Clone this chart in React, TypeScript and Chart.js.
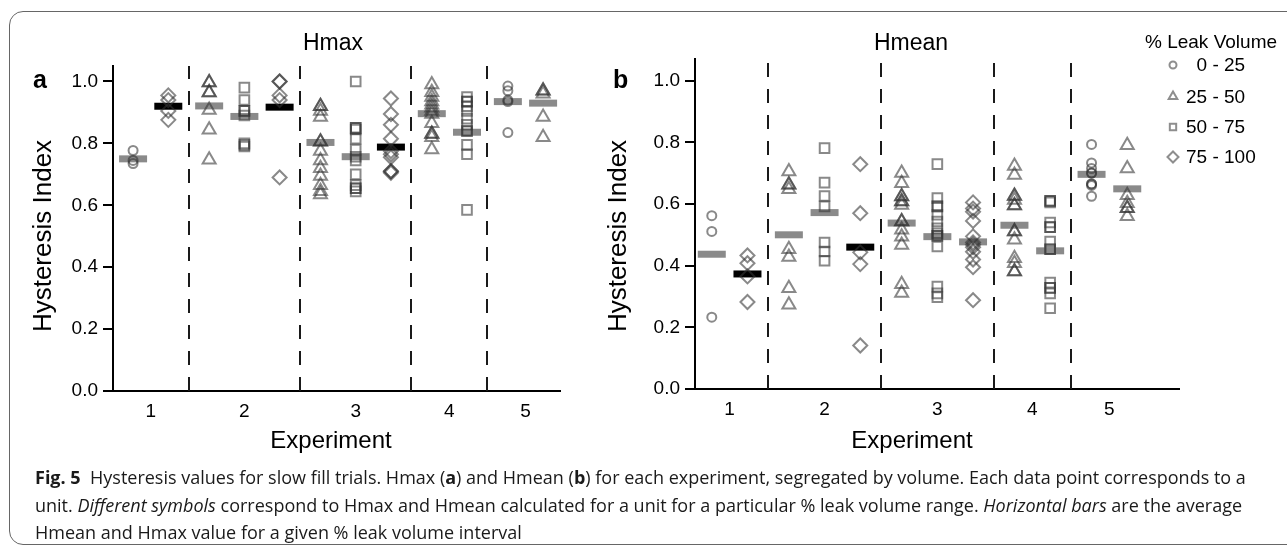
import React, { useEffect, useRef } from 'react';
import { Chart, registerables } from 'chart.js';
import { drawPoint } from 'chart.js/helpers';

Chart.register(...registerables);

// ---------------- data ----------------
const EXPERIMENTS = ['1', '2', '3', '4', '5'];
const VOLUME_RANGES = ['0 - 25', '25 - 50', '50 - 75', '75 - 100'];
const LEGEND_TITLE = '% Leak Volume';
const LEGEND_LABELS = ['\u20070 - 25', '25 - 50', '50 - 75', '75 - 100'];
const Y_TICKS = [0, 0.2, 0.4, 0.6, 0.8, 1.0];
const Y_TICK_LABELS = ['0.0', '0.2', '0.4', '0.6', '0.8', '1.0'];

// every plotted column = one experiment + one % leak volume range
const COLUMN_EXPERIMENT = [0, 0, 1, 1, 1, 2, 2, 2, 3, 3, 4, 4];
const COLUMN_RANGE = [0, 3, 1, 2, 3, 1, 2, 3, 1, 2, 0, 1];

const HMAX_VALUES = [
  [0.777, 0.745, 0.735],
  [0.955, 0.94, 0.905, 0.876],
  [0.997, 0.997, 0.964, 0.964, 0.908, 0.844, 0.747],
  [0.98, 0.94, 0.905, 0.905, 0.89, 0.8, 0.795, 0.79],
  [1.0, 1.0, 0.955, 0.94, 0.69],
  [0.92, 0.92, 0.905, 0.885, 0.805, 0.805, 0.775, 0.745, 0.72, 0.695, 0.665, 0.645, 0.635],
  [1.0, 0.85, 0.85, 0.845, 0.815, 0.78, 0.757, 0.745, 0.7, 0.665, 0.655, 0.655, 0.645],
  [0.945, 0.895, 0.86, 0.815, 0.775, 0.765, 0.755, 0.71, 0.71, 0.705],
  [0.99, 0.965, 0.95, 0.935, 0.925, 0.915, 0.905, 0.895, 0.865, 0.83, 0.83, 0.82, 0.78],
  [0.95, 0.935, 0.935, 0.92, 0.905, 0.88, 0.86, 0.84, 0.84, 0.795, 0.765, 0.585],
  [0.985, 0.97, 0.94, 0.935, 0.835],
  [0.97, 0.97, 0.96, 0.885, 0.82],
];
const HMAX_MEANS = [0.75, 0.92, 0.921, 0.887, 0.917, 0.803, 0.757, 0.788, 0.896, 0.836, 0.935, 0.93];
const HMAX_BLACK_BARS = [1, 4, 7];

const HMEAN_VALUES = [
  [0.562, 0.511, 0.233],
  [0.433, 0.408, 0.365, 0.282],
  [0.705, 0.662, 0.662, 0.648, 0.453, 0.428, 0.327, 0.273],
  [0.781, 0.669, 0.626, 0.592, 0.475, 0.446, 0.416],
  [0.729, 0.57, 0.443, 0.405, 0.141],
  [0.7, 0.667, 0.624, 0.624, 0.608, 0.608, 0.597, 0.543, 0.543, 0.516, 0.494, 0.467, 0.34, 0.311],
  [0.729, 0.619, 0.592, 0.592, 0.565, 0.543, 0.521, 0.505, 0.497, 0.497, 0.462, 0.332, 0.31, 0.298],
  [0.605, 0.585, 0.575, 0.545, 0.495, 0.475, 0.468, 0.46, 0.445, 0.42, 0.395, 0.288],
  [0.723, 0.694, 0.626, 0.626, 0.613, 0.595, 0.595, 0.511, 0.511, 0.484, 0.424, 0.408, 0.381, 0.381],
  [0.61, 0.61, 0.605, 0.54, 0.525, 0.525, 0.478, 0.453, 0.453, 0.345, 0.328, 0.328, 0.31, 0.262],
  [0.793, 0.733, 0.715, 0.7, 0.7, 0.665, 0.665, 0.66, 0.625],
  [0.79, 0.715, 0.628, 0.602, 0.586, 0.586, 0.56],
];
const HMEAN_MEANS = [0.437, 0.373, 0.5, 0.572, 0.46, 0.538, 0.494, 0.477, 0.531, 0.448, 0.696, 0.649];
const HMEAN_BLACK_BARS = [1, 4];

// ---------------- layout / style ----------------
const FONT = "'Liberation Sans', Arial, Helvetica, sans-serif";
const GROUP_GAP = 0.16;
const POINT_STYLES = ['circle', 'triangle', 'rect', 'rectRot'];
const POINT_RADII = [4.5, 7.5, 6.8, 7];
const LEGEND_RADII = [3.5, 5, 4.5, 5.5];
const MARKER_COLOR = 'rgba(51,51,51,0.58)';
const LEGEND_MARKER_COLOR = '#8e8e8e';
const GREY_BAR = '#8a8a8a';

const columnX = (c: number) => c + GROUP_GAP * COLUMN_EXPERIMENT[c];
const columnsOf = (g: number) =>
  COLUMN_EXPERIMENT.map((e, i) => (e === g ? i : -1)).filter((i) => i >= 0);
const GROUP_CENTERS = EXPERIMENTS.map((_, g) => {
  const cols = columnsOf(g);
  return cols.reduce((s, c) => s + columnX(c), 0) / cols.length;
});
const DIVIDERS = EXPERIMENTS.slice(1).map((_, g) => {
  const a = columnsOf(g);
  const b = columnsOf(g + 1);
  return (columnX(a[a.length - 1]) + columnX(b[0])) / 2;
});

interface PanelSpec {
  values: number[][];
  means: number[];
  blackBars: number[];
  title: string;
  letter: string;
  xMin: number;
  xMax: number;
  yMax: number;
  width: number;
  height: number;
  area: { left: number; right: number; top: number; bottom: number };
  titleX: number;
  letterX: number;
  yTitleX: number;
  xTitleX: number;
  legend: null | { x: number; markerX: number; textX: number; titleY: number; rows: number[] };
}

function buildConfig(p: PanelSpec): any {
  const datasets: any[] = VOLUME_RANGES.map((label, r) => ({
    label,
    data: p.values.flatMap((vals, c) =>
      COLUMN_RANGE[c] === r ? vals.map((y) => ({ x: columnX(c), y })) : []
    ),
    pointStyle: POINT_STYLES[r],
    pointRadius: POINT_RADII[r],
    pointBorderWidth: 2,
    pointBorderColor: MARKER_COLOR,
    pointBackgroundColor: 'rgba(0,0,0,0)',
    showLine: false,
  }));
  datasets.push({
    label: 'mean',
    data: p.means.map((y, c) => ({ x: columnX(c), y })),
    pointStyle: 'line',
    pointRadius: 14,
    pointBorderWidth: 7,
    pointBorderColor: (ctx: any) => (p.blackBars.includes(ctx.dataIndex) ? '#000' : GREY_BAR),
    pointBackgroundColor: 'rgba(0,0,0,0)',
    showLine: false,
  });

  const decor = {
    id: 'panelDecor',
    beforeDatasetsDraw(chart: any) {
      const { ctx, chartArea } = chart;
      const xs = chart.scales.x;
      ctx.save();
      ctx.strokeStyle = '#1a1a1a';
      ctx.lineWidth = 2;
      ctx.setLineDash([14, 12]);
      DIVIDERS.forEach((v) => {
        const px = Math.round(xs.getPixelForValue(v));
        ctx.beginPath();
        ctx.moveTo(px, chartArea.bottom);
        ctx.lineTo(px, chartArea.top);
        ctx.stroke();
      });
      ctx.restore();
    },
    afterDraw(chart: any) {
      const { ctx } = chart;
      ctx.save();
      ctx.fillStyle = '#000';
      ctx.textBaseline = 'alphabetic';
      ctx.textAlign = 'center';
      ctx.font = `23px ${FONT}`;
      ctx.fillText(p.title, p.titleX, 50);
      ctx.font = `24px ${FONT}`;
      ctx.fillText('Experiment', p.xTitleX, 448);
      ctx.textAlign = 'left';
      ctx.font = `bold 25px ${FONT}`;
      ctx.fillText(p.letter, p.letterX, 88);
      ctx.save();
      ctx.translate(p.yTitleX, 236);
      ctx.rotate(-Math.PI / 2);
      ctx.textAlign = 'center';
      ctx.textBaseline = 'middle';
      ctx.font = `26px ${FONT}`;
      ctx.fillText('Hysteresis Index', 0, 0);
      ctx.restore();

      if (p.legend) {
        const L = p.legend;
        ctx.font = `19px ${FONT}`;
        ctx.textAlign = 'left';
        ctx.textBaseline = 'alphabetic';
        ctx.fillText(LEGEND_TITLE, L.x, L.titleY);
        ctx.textBaseline = 'middle';
        LEGEND_LABELS.forEach((lab, r) => {
          const y = L.rows[r];
          ctx.strokeStyle = LEGEND_MARKER_COLOR;
          ctx.fillStyle = 'rgba(0,0,0,0)';
          ctx.lineWidth = 2;
          drawPoint(ctx, { pointStyle: POINT_STYLES[r], radius: LEGEND_RADII[r], borderWidth: 2, rotation: 0 } as any, L.markerX, y);
          ctx.fillStyle = '#000';
          ctx.fillText(lab, L.textX, y + 1);
        });
      }
      ctx.restore();
    },
  };

  return {
    type: 'scatter',
    data: { datasets },
    plugins: [decor],
    options: {
      animation: false,
      responsive: false,
      events: [],
      layout: { padding: { left: 0, right: p.width - p.area.right, top: p.area.top, bottom: 0 } },
      plugins: { legend: { display: false }, tooltip: { enabled: false }, title: { display: false } },
      scales: {
        x: {
          type: 'linear',
          min: p.xMin,
          max: p.xMax,
          afterFit: (s: any) => {
            s.height = p.height - p.area.bottom;
          },
          afterBuildTicks: (s: any) => {
            s.ticks = GROUP_CENTERS.map((v) => ({ value: v }));
          },
          ticks: {
            callback: (_v: any, i: number) => EXPERIMENTS[i],
            font: { family: FONT, size: 19 },
            color: '#000',
            padding: 9,
            maxRotation: 0,
            autoSkip: false,
          },
          grid: { display: false, drawTicks: false },
          border: { display: true, color: '#000', width: 2 },
        },
        y: {
          type: 'linear',
          min: 0,
          max: p.yMax,
          afterFit: (s: any) => {
            s.width = p.area.left;
          },
          afterBuildTicks: (s: any) => {
            s.ticks = Y_TICKS.map((v) => ({ value: v }));
          },
          ticks: {
            callback: (_v: any, i: number) => Y_TICK_LABELS[i],
            font: { family: FONT, size: 19 },
            color: '#000',
            padding: 5,
          },
          grid: {
            display: true,
            drawOnChartArea: false,
            drawTicks: true,
            tickLength: 10,
            color: '#000',
            lineWidth: 2,
          },
          border: { display: true, color: '#000', width: 2 },
        },
      },
    },
  };
}

const LEFT: PanelSpec = {
  values: HMAX_VALUES,
  means: HMAX_MEANS,
  blackBars: HMAX_BLACK_BARS,
  title: 'Hmax',
  letter: 'a',
  xMin: -0.57,
  xMax: 12.12,
  yMax: 1.05,
  width: 600,
  height: 470,
  area: { left: 113, right: 560, top: 66, bottom: 391 },
  titleX: 333,
  letterX: 33,
  yTitleX: 44,
  xTitleX: 331,
  legend: null,
};

const RIGHT_OFFSET = 580;
const RIGHT: PanelSpec = {
  values: HMEAN_VALUES,
  means: HMEAN_MEANS,
  blackBars: HMEAN_BLACK_BARS,
  title: 'Hmean',
  letter: 'b',
  xMin: -0.47,
  xMax: 13.09,
  yMax: 1.07,
  width: 707,
  height: 470,
  area: { left: 115, right: 599, top: 59, bottom: 389 },
  titleX: 331,
  letterX: 33,
  yTitleX: 39,
  xTitleX: 332,
  legend: { x: 565, markerX: 593, textX: 606, titleY: 48, rows: [65, 96.5, 127, 157] },
};

export default function App() {
  const leftRef = useRef<HTMLCanvasElement | null>(null);
  const rightRef = useRef<HTMLCanvasElement | null>(null);

  useEffect(() => {
    const charts: Chart[] = [];
    if (leftRef.current) charts.push(new Chart(leftRef.current, buildConfig(LEFT)));
    if (rightRef.current) charts.push(new Chart(rightRef.current, buildConfig(RIGHT)));
    return () => charts.forEach((c) => c.destroy());
  }, []);

  return (
    <div
      style={{
        position: 'absolute',
        left: 0,
        top: 0,
        width: 1287,
        height: 548,
        overflow: 'hidden',
        background: '#fff',
      }}
    >
      <div
        style={{
          position: 'absolute',
          left: 9,
          top: 11,
          width: 1330,
          height: 534,
          border: '1px solid #666',
          borderRadius: 14,
          boxSizing: 'border-box',
        }}
      />
      <canvas
        ref={leftRef}
        width={LEFT.width}
        height={LEFT.height}
        style={{ position: 'absolute', left: 0, top: 0, width: LEFT.width, height: LEFT.height }}
      />
      <canvas
        ref={rightRef}
        width={RIGHT.width}
        height={RIGHT.height}
        style={{ position: 'absolute', left: RIGHT_OFFSET, top: 0, width: RIGHT.width, height: RIGHT.height }}
      />
      <div
        style={{
          position: 'absolute',
          left: 35,
          top: 464,
          fontFamily: "'Open Sans', 'Noto Sans', sans-serif",
          fontSize: 18,
          lineHeight: '27.5px',
          color: '#1a1a1a',
          whiteSpace: 'nowrap',
        }}
      >
        <div>
          <b>Fig. 5</b>&nbsp; Hysteresis values for slow fill trials. Hmax (<b>a</b>) and Hmean (<b>b</b>) for each
          experiment, segregated by volume. Each data point corresponds to a
        </div>
        <div>
          unit. <i>Different symbols</i> correspond to Hmax and Hmean calculated for a unit for a particular % leak
          volume range. <i>Horizontal bars</i> are the average
        </div>
        <div>Hmean and Hmax value for a given % leak volume interval</div>
      </div>
    </div>
  );
}
